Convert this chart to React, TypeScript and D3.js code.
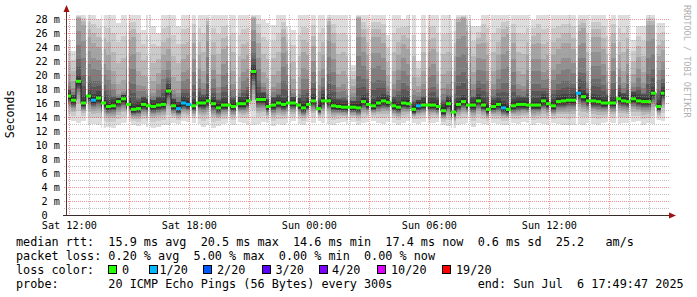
import React from 'react';
import * as d3 from 'd3';

// ---- time range / columns ----
const START = new Date(2025, 6, 5, 11, 49, 47);
const END = new Date(2025, 6, 6, 17, 49, 47);
const STEP_MIN = 15;

// median rtt (ms) per 15-min column
const medianMs = [
  17.0, 16.4, 19.1, 16.0, 17.0, 16.4, 16.7, 16.0, 15.5, 15.6,
  16.2, 16.6, 15.8, 15.1, 15.2, 15.8, 15.6, 15.5, 15.7, 15.8,
  17.7, 15.6, 15.2, 16.0, 15.8, 15.6, 16.0, 16.0, 16.3, 15.9,
  15.3, 15.7, 15.7, 15.5, 15.9, 15.9, 16.3, 20.5, 16.5, 16.5,
  15.5, 15.7, 16.0, 15.8, 16.0, 16.0, 15.7, 15.3, 15.8, 16.3,
  15.2, 16.3, 16.3, 15.6, 15.5, 15.4, 15.4, 15.4, 15.3, 16.2,
  15.8, 15.6, 16.0, 16.3, 16.1, 15.6, 15.4, 16.0, 15.9, 15.1,
  15.6, 15.7, 15.7, 15.7, 15.5, 14.9, 15.9, 14.7, 15.8, 16.2,
  15.7, 15.7, 16.3, 15.7, 15.1, 15.5, 15.8, 15.3, 15.1, 15.6,
  15.8, 15.8, 15.7, 15.7, 15.7, 16.3, 15.9, 15.6, 16.2, 16.3,
  16.4, 16.4, 17.4, 16.9, 16.3, 16.3, 16.2, 16.0, 16.0, 16.0,
  16.6, 16.3, 16.2, 16.6, 16.3, 16.2, 16.2, 17.4, 15.5, 17.4,
];

// lost pings out of 20 per column
const lossOf20 = [
  0, 0, 0, 0, 0, 1, 0, 0, 0, 0, 0, 0, 0, 0, 0, 0, 0, 0, 0, 0,
  0, 0, 1, 1, 1, 0, 0, 0, 0, 0, 0, 0, 0, 0, 0, 0, 0, 0, 0, 0,
  0, 0, 0, 0, 0, 0, 0, 0, 0, 0, 0, 0, 0, 0, 0, 0, 0, 0, 0, 0,
  0, 0, 0, 0, 0, 0, 0, 0, 0, 0, 1, 0, 0, 0, 0, 0, 0, 0, 0, 0,
  0, 0, 0, 0, 0, 0, 0, 1, 0, 0, 0, 0, 0, 0, 0, 0, 0, 0, 0, 0,
  0, 0, 1, 0, 0, 0, 0, 0, 0, 0, 0, 0, 0, 0, 0, 0, 0, 0, 0, 0,
];

// slowest ping per column (ms)
const maxMs = [
  25, 23.5, 28.6, 28.6, 28.6, 28.6, 28, 28.6, 28.6, 28.6, 27.5, 28.6, 28.6, 28.6, 28.6, 26.5, 28.6, 27, 26, 28.6, 28.6, 28.6, 27, 28.6, 28.6,
  28.6, 28.6, 28.6, 28.6, 28.6, 28.6, 28.6, 28.6, 28.6, 28.6, 28.6, 28.6, 28.6, 28.6, 27.8, 27.4, 27.2, 28.6, 28.6, 27, 26.5, 28.6, 28.6, 28.6, 28.6,
  28.6, 28.6, 28.6, 28.6, 28.6, 28.6, 28.6, 21.5, 28.6, 28.6, 28.6, 28.6, 28.6, 28.6, 25.7, 28.6, 28.6, 28, 28.6, 28.6, 22, 28.6, 28.6, 28.6, 28.6,
  28.6, 28.6, 28, 28.6, 28.6, 28.6, 27, 27, 28.6, 28.6, 28.6, 28.6, 28.6, 28.6, 28.6, 28.6, 28.6, 28.6, 27.8, 28.6, 28.6, 28.6, 28.6, 28.6, 28.6,
  28.6, 28.6, 28.6, 28.6, 28.6, 28.6, 28.6, 28.6, 28, 28.6, 28.6, 28.6, 28.6, 25, 27, 27, 28.6, 28.6, 27.4, 27.4,
];

// upper quartile-ish ping per column (ms)
const upperMs = [
  19.5, 18.5, 28, 27, 25, 24, 23.5, 23, 22, 19.5, 17.5, 18, 24.5, 25, 19.5, 19, 18.5, 18, 19.5, 22, 23, 18.5, 18, 21.5, 22,
  24, 22, 19.5, 27, 22, 19, 23, 23.5, 19.5, 18.5, 21.5, 22, 28, 24, 19.5, 18.5, 19, 19.5, 25, 23, 18.5, 18.5, 22.5, 22, 23.5,
  19.5, 22, 27, 24, 19, 19.5, 18.5, 18, 28, 25, 22, 25, 25, 24, 19, 19.5, 22, 24, 23, 18.5, 18, 19.5, 22.5, 23, 19.5,
  19, 19.5, 22, 27.5, 28, 26, 19.5, 24, 24, 22, 19.5, 22, 25, 25.5, 24, 19.5, 19, 22, 24, 24, 21.5, 22, 22, 23, 24,
  24, 23, 26, 26.5, 19.5, 25, 25, 23, 19.5, 24, 22, 19.5, 23, 19.5, 22, 19.5, 27, 27, 22, 23,
];

// fastest ping per column (ms)
const minMs = [
  13.6, 13.4, 13.2, 13.5, 12.9, 13.0, 12.8, 12.5, 12.6, 12.5, 12.9, 13.1, 13.3, 12.8, 12.7, 13.0, 12.6, 12.5, 12.6, 12.8, 12.9, 13.2, 13.0, 13.4, 13.3,
  13.2, 13.0, 12.6, 12.8, 12.4, 12.7, 13.0, 13.1, 12.9, 13.3, 13.2, 12.9, 12.8, 13.0, 13.3, 13.1, 12.7, 13.0, 12.9, 13.2, 13.4, 13.0, 12.9, 13.3, 13.2,
  13.4, 13.1, 13.0, 12.8, 13.2, 13.3, 13.0, 13.3, 12.9, 13.1, 13.3, 13.4, 13.2, 13.0, 13.3, 13.2, 12.9, 13.1, 13.4, 13.2, 13.0, 13.3, 13.1, 13.2, 13.3,
  12.8, 12.7, 12.5, 12.9, 13.0, 13.2, 12.6, 13.1, 13.0, 12.9, 13.2, 13.0, 12.8, 12.9, 13.1, 13.0, 13.3, 13.2, 12.8, 13.1, 13.0, 12.9, 13.1, 13.0, 12.9,
  12.8, 12.9, 13.0, 12.9, 13.2, 13.0, 12.8, 13.1, 13.3, 13.2, 13.0, 13.2, 13.1, 13.3, 13.4, 12.9, 13.1, 13.0, 13.6, 13.5,
];

// missing 5-min steps, minutes after START
const missingStepMin = [
  60, 108, 183, 246, 372, 390, 429, 486, 510, 549, 609, 666, 690, 729, 750, 777, 846,
  909, 972, 1032, 1080, 1119, 1158, 1206, 1269, 1329, 1389, 1449, 1530, 1569, 1626, 1650, 1689, 1767,
];

const yTicks = [0, 2, 4, 6, 8, 10, 12, 14, 16, 18, 20, 22, 24, 26, 28];
const yMinor = d3.range(1, 29);

const lossLabels = ['0', '1/20', '2/20', '3/20', '4/20', '10/20', '19/20'];
const lossColors = ['#26ff00', '#00b8ff', '#0059ff', '#5e00ff', '#7e00ff', '#dd00ff', '#ff0000'];
const lossBoxX = [108, 149, 203, 262, 319, 377, 442];
const lossLabelX = [122, 159.5, 217, 275.5, 332, 391, 456];

const legendRow1 = 'median rtt:  15.9 ms avg  20.5 ms max  14.6 ms min  17.4 ms now  0.6 ms sd  25.2   am/s';
const legendRow2 = 'packet loss: 0.20 % avg  5.00 % max  0.00 % min  0.00 % now';
const legendRow3 = 'loss color:';
const legendRow4 = 'probe:       20 ICMP Echo Pings (56 Bytes) every 300s            end: Sun Jul  6 17:49:47 2025';

const MONO = "'DejaVu Sans Mono', monospace";
const nb = (s: string) => s.replace(/ /g, '\u00A0');

export default function App() {
  const W = 697, H = 297;
  const x = d3.scaleTime().domain([START, END]).range([66, 666]);
  const y = d3.scaleLinear().domain([0, 200 / 7]).range([215, 15]);
  const colT = (i: number) => new Date(START.getTime() + i * STEP_MIN * 60000);
  const n = medianMs.length;

  const shades = d3.range(1, 11).map((k) => {
    const v = Math.floor((190 / 10) * (10 - k)) + 50;
    return d3.rgb(v, v, v).formatHex();
  });

  const smokeRects: React.ReactNode[] = [];
  for (let i = 0; i < n; i++) {
    const m = medianMs[i], hi = maxMs[i], q3 = upperMs[i], lo = minMs[i];
    const d = Math.max(q3 - m, 1);
    const ups = [hi, q3 + (hi - q3) * 0.72, q3 + (hi - q3) * 0.42, q3 + (hi - q3) * 0.12, m + 0.8 * d, m + 0.58 * d, m + 0.36 * d, m + 0.18 * d + 0.5, m + 0.95, m + 0.5];
    for (let k = 1; k < 10; k++) ups[k] = Math.min(ups[k], ups[k - 1]);
    const fr = [0, 0.3, 0.5, 0.62, 0.72, 0.8, 0.86, 0.91, 0.96, 1];
    const span = Math.max(m - 0.4 - lo, 0.5);
    const lows = fr.map((f) => lo + span * f);
    const x0 = Math.max(x(colT(i)), 68);
    const x1 = Math.min(x(colT(i + 1)), 664.5);
    for (let k = 0; k < 10; k++) {
      const yt = y(Math.min(ups[k], 200 / 7));
      const yb = y(lows[k]);
      smokeRects.push(
        <rect key={`s${i}-${k}`} x={x0} y={yt} width={Math.max(x1 - x0, 0)} height={Math.max(yb - yt, 0)} fill={shades[k]} shapeRendering="crispEdges" />
      );
    }
  }

  const gaps = missingStepMin.map((mm, i) => (
    <rect key={`g${i}`} x={x(new Date(START.getTime() + mm * 60000))} y={14} width={1.7} height={201} fill="#ffffff" />
  ));

  const hours = d3.timeHour.range(d3.timeHour.ceil(START), END);
  const gridV = hours.map((h, i) => {
    const major = h.getHours() % 3 === 0;
    const xx = Math.round(x(h)) + 0.5;
    return (
      <line key={`v${i}`} x1={xx} x2={xx} y1={15} y2={217} stroke={major ? 'rgba(230,60,60,0.55)' : 'rgba(150,150,150,0.6)'} strokeDasharray="1,1" />
    );
  });
  const gridH = yMinor.map((v) => {
    const major = v % 2 === 0;
    const yy = Math.round(y(v)) + 0.5;
    return (
      <line key={`h${v}`} x1={64} x2={669} y1={yy} y2={yy} stroke={major ? 'rgba(230,60,60,0.55)' : 'rgba(150,150,150,0.6)'} strokeDasharray="1,1" />
    );
  });

  const medPts: [number, number][] = medianMs.map((m, i) => [Math.max(x(colT(i)), 68), y(m)]);
  medPts.push([664.5, y(medianMs[n - 1])]);
  const medPath = d3.line().curve(d3.curveStepAfter)(medPts) || '';

  const greens = medianMs.map((m, i) => {
    const x0 = Math.max(x(colT(i)), 68);
    const x1 = Math.min(x(colT(i + 1)), 664.5);
    const yy = y(m);
    return <path key={`m${i}`} d={`M${x0},${yy}H${x1}`} stroke={lossColors[lossOf20[i]]} strokeWidth={3} fill="none" />;
  });

  const labelHours = hours.filter((h) => h.getHours() % 6 === 0);
  const fmt = d3.timeFormat('%a %H:%M');

  return (
    <svg width={W} height={H} style={{ position: 'absolute', left: 0, top: 0, background: '#fff' }} xmlns="http://www.w3.org/2000/svg">
      <rect x={0} y={0} width={W} height={H} fill="#ffffff" />
      <g>{smokeRects}</g>
      <g>{gaps}</g>
      <g>{gridH}</g>
      <g>{gridV}</g>
      <path d={medPath} stroke="#202020" strokeWidth={1} fill="none" />
      <g>{greens}</g>

      {/* axes */}
      <line x1={66.5} x2={66.5} y1={216} y2={11} stroke="#5a3434" strokeWidth={1} />
      <polygon points="66.5,5 63.5,12 69.5,12" fill="#a01010" />
      <line x1={63} x2={670} y1={215.5} y2={215.5} stroke="#3a2a2a" strokeWidth={1} />
      <polygon points="676,215.5 669,212.5 669,218.5" fill="#a01010" />

      {/* tick labels */}
      <g fontFamily={MONO} fontSize={10.2} fill="#000">
        {yTicks.map((v) => (
          <text key={`yl${v}`} x={60} y={y(v) + 3.6} textAnchor="end">
            {nb(v === 0 ? '0  ' : `${v} m`)}
          </text>
        ))}
        {labelHours.map((h, i) => (
          <text key={`xl${i}`} x={x(h)} y={229} textAnchor="middle">
            {fmt(h)}
          </text>
        ))}
      </g>

      <text transform="translate(14,114) rotate(-90)" textAnchor="middle" fontFamily={MONO} fontSize={11.5} fill="#000">
        Seconds
      </text>
      <text transform="translate(684,5) rotate(90)" fontFamily={MONO} fontSize={8.5} fill="#b0b0b0">
        RRDTOOL / TOBI OETIKER
      </text>

      {/* legend */}
      <g fontFamily={MONO} fontSize={11.8} fill="#000">
        <text x={16} y={245.5}>{nb(legendRow1)}</text>
        <text x={16} y={259.5}>{nb(legendRow2)}</text>
        <text x={16} y={273.5}>{nb(legendRow3)}</text>
        {lossLabels.map((l, i) => (
          <text key={`ll${i}`} x={lossLabelX[i]} y={273.5}>{l}</text>
        ))}
        <text x={16} y={287.5}>{nb(legendRow4)}</text>
      </g>
      {lossColors.map((c, i) => (
        <rect key={`lb${i}`} x={lossBoxX[i] + 0.5} y={265.5} width={8} height={8} fill={c} stroke="#000" strokeWidth={1} />
      ))}
    </svg>
  );
}
